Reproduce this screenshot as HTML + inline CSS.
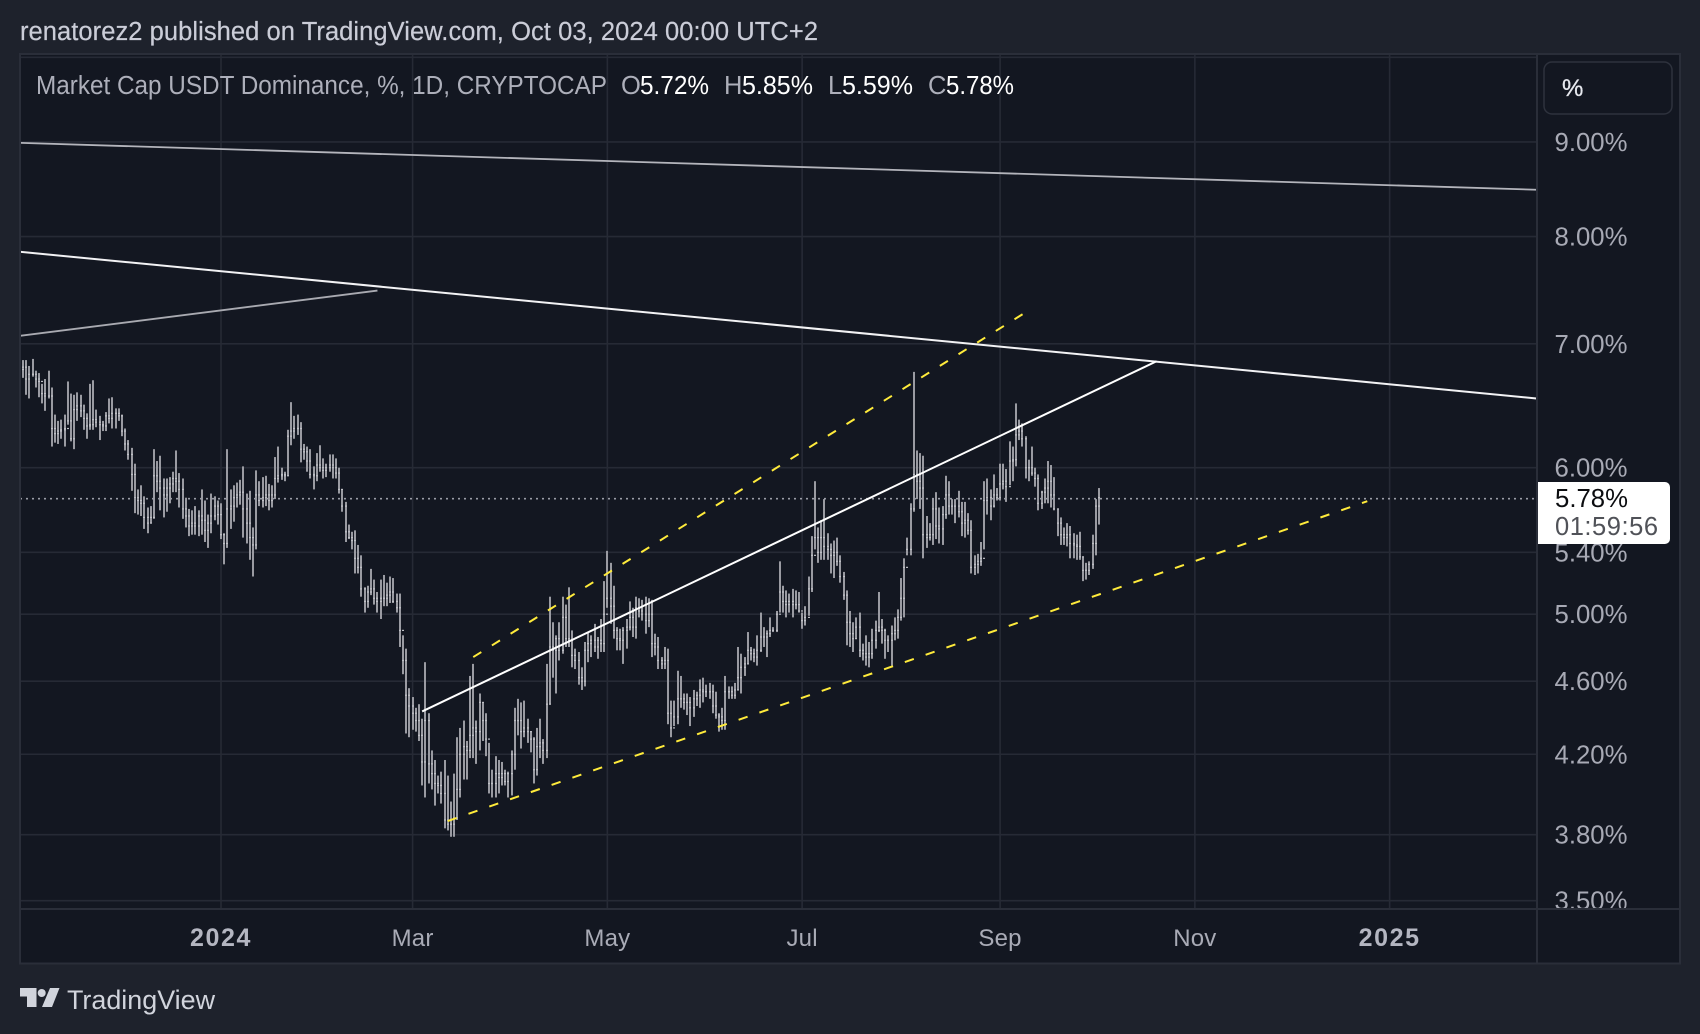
<!DOCTYPE html>
<html lang="en">
<head>
<meta charset="utf-8">
<title>Market Cap USDT Dominance chart</title>
<style>
html,body{margin:0;padding:0;background:#1e222c;width:1700px;height:1034px;overflow:hidden}
svg{display:block;font-family:"Liberation Sans",Arial,sans-serif}
</style>
</head>
<body>
<svg id="chart" xmlns="http://www.w3.org/2000/svg" width="1700" height="1034" viewBox="0 0 1700 1034">
  <defs>
    <clipPath id="plot-clip"><rect x="21" y="55" width="1516" height="853"/></clipPath>
    <clipPath id="price-clip"><rect x="1538" y="55" width="141" height="853"/></clipPath>
  </defs>
  <rect x="0" y="0" width="1700" height="1034" fill="#1e222c"/>
  <text x="20" y="40" font-size="25.5" fill="#cbcdd8" stroke="#cbcdd8" stroke-width="0.2" textLength="798" lengthAdjust="spacing">renatorez2 published on TradingView.com, Oct 03, 2024 00:00 UTC+2</text>
  <rect x="20" y="54" width="1660" height="909.5" fill="#131721" stroke="#2a2e39" stroke-width="2"/>
  <g id="grid" clip-path="url(#plot-clip)"></g>
  <g id="bars" clip-path="url(#plot-clip)"></g>
  <g id="last-line" clip-path="url(#plot-clip)"></g>
  <g id="drawings" clip-path="url(#plot-clip)"></g>
  <line x1="1537" y1="54" x2="1537" y2="963" stroke="#2a2e39" stroke-width="2"/>
  <line x1="20" y1="909" x2="1680" y2="909" stroke="#2a2e39" stroke-width="2"/>
  <g id="price-axis" clip-path="url(#price-clip)"></g>
  <g id="time-axis"></g>

  <g font-size="25.5">
    <text x="36" y="94" fill="#adafba" textLength="571" lengthAdjust="spacingAndGlyphs">Market Cap USDT Dominance, %, 1D, CRYPTOCAP</text>
    <text x="621" y="94" fill="#adafba">O</text>
    <text x="640" y="94" fill="#ffffff" textLength="69" lengthAdjust="spacingAndGlyphs">5.72%</text>
    <text x="724" y="94" fill="#adafba">H</text>
    <text x="742" y="94" fill="#ffffff" textLength="71" lengthAdjust="spacingAndGlyphs">5.85%</text>
    <text x="828" y="94" fill="#adafba">L</text>
    <text x="842" y="94" fill="#ffffff" textLength="71" lengthAdjust="spacingAndGlyphs">5.59%</text>
    <text x="928" y="94" fill="#adafba">C</text>
    <text x="946" y="94" fill="#ffffff" textLength="68" lengthAdjust="spacingAndGlyphs">5.78%</text>
  </g>

  <g>
    <rect x="1544" y="62" width="128" height="52" rx="8" ry="8" fill="#131721" stroke="#2e323d" stroke-width="1.5"/>
    <text x="1562" y="96" font-size="24" fill="#e6e8ee" stroke="#e6e8ee" stroke-width="0.3">%</text>
  </g>

  <g id="last-price-tag">
    <path d="M1538 482H1665a5 5 0 0 1 5 5V539a5 5 0 0 1 -5 5H1538Z" fill="#ffffff"/>
    <text id="last-price-text" x="1555" y="507" font-size="25.5" fill="#0c0d10" textLength="73" lengthAdjust="spacingAndGlyphs">5.78%</text>
    <text x="1555" y="535" font-size="25.5" fill="#505258" textLength="103" lengthAdjust="spacing">01:59:56</text>
  </g>

  <g fill="#d1d4dc">
    <polygon points="20,988 36.5,988 36.5,1007 27,1007 27,996.5 20,996.5"/>
    <circle cx="41.7" cy="993" r="4"/>
    <polygon points="50,988 59.5,988 52,1007 42,1007"/>
  </g>
  <text x="67" y="1009" font-size="26.5" fill="#d1d4dc" textLength="148" lengthAdjust="spacingAndGlyphs">TradingView</text>
</svg>
<script>
// ---- chart data ----
const startDate = '2023-10-30';
const highs = [
6.86,6.86,6.86,6.81,6.87,6.77,6.75,6.66,6.70,6.77,6.63,6.41,6.36,6.37,6.41,6.68,6.58,6.57,6.59,6.57,
6.49,6.42,6.66,6.69,6.45,6.40,6.36,6.43,6.54,6.55,6.46,6.46,6.41,6.30,6.21,6.15,6.03,5.84,5.87,5.79,
5.71,5.72,6.14,6.05,6.09,5.92,5.92,5.93,5.97,6.13,5.96,5.92,5.78,5.70,5.69,5.72,5.69,5.84,5.76,5.66,
5.81,5.79,5.76,5.74,5.53,6.14,5.84,5.87,5.89,5.91,6.01,5.81,5.83,5.57,5.98,5.90,5.93,5.94,5.88,5.87,
6.08,6.16,6.00,5.97,6.29,6.51,6.40,6.41,6.35,6.18,6.16,6.14,6.01,6.11,6.17,6.07,6.03,6.10,6.10,6.07,
6.00,5.84,5.75,5.59,5.54,5.55,5.45,5.38,5.17,5.18,5.29,5.22,5.14,5.22,5.25,5.20,5.24,5.23,5.13,5.13,
4.87,4.79,4.56,4.51,4.45,4.47,4.39,4.71,4.42,4.22,4.17,4.09,4.11,4.17,4.09,3.96,4.10,4.29,4.34,4.38,
4.27,4.63,4.70,4.38,4.53,4.48,4.42,4.26,4.12,4.19,4.17,4.16,4.12,4.11,4.22,4.45,4.50,4.48,4.49,4.39,
4.32,4.29,4.34,4.39,4.28,4.70,5.11,4.95,4.87,4.95,5.11,5.06,5.17,4.90,4.79,4.77,4.68,4.83,4.89,4.87,
4.94,4.86,4.97,5.21,5.41,5.33,5.18,4.92,4.91,4.92,4.97,5.08,5.04,5.11,5.10,5.09,5.11,5.10,5.09,4.88,
4.86,4.74,4.80,4.79,4.49,4.49,4.66,4.63,4.53,4.53,4.51,4.55,4.54,4.61,4.62,4.58,4.59,4.58,4.54,4.42,
4.45,4.63,4.57,4.57,4.59,4.80,4.76,4.74,4.89,4.80,4.79,4.87,5.01,4.92,4.90,4.98,4.92,5.02,5.34,5.18,
5.15,5.13,5.16,5.15,5.14,5.01,5.05,5.24,5.51,5.90,5.57,5.62,5.77,5.53,5.46,5.48,5.50,5.38,5.27,5.15,
5.02,4.95,4.98,5.01,4.82,4.87,4.83,4.91,4.96,5.14,4.97,4.91,4.87,4.93,4.98,5.03,5.23,5.36,5.50,5.74,
6.76,6.13,6.11,6.09,5.65,5.60,5.77,5.82,5.71,5.72,5.94,5.90,5.77,5.77,5.83,5.75,5.75,5.67,5.62,5.38,
5.39,5.47,5.90,5.92,5.84,5.95,5.85,6.03,6.03,5.99,6.20,6.16,6.50,6.37,6.34,6.24,6.06,6.16,6.00,5.95,
5.83,5.92,6.05,6.02,5.93,5.70,5.64,5.57,5.60,5.58,5.53,5.52,5.54,5.37,5.33,5.34,5.52,5.77,5.85
];
const lows = [
6.71,6.71,6.57,6.54,6.72,6.63,6.55,6.50,6.44,6.54,6.16,6.19,6.18,6.22,6.16,6.33,6.20,6.14,6.36,6.39,
6.29,6.22,6.29,6.29,6.31,6.21,6.28,6.28,6.34,6.30,6.30,6.36,6.24,6.13,6.06,5.83,5.67,5.66,5.65,5.56,
5.53,5.60,5.63,5.82,5.69,5.64,5.68,5.74,5.82,5.82,5.71,5.63,5.57,5.51,5.52,5.52,5.51,5.52,5.47,5.43,
5.53,5.62,5.59,5.49,5.32,5.43,5.56,5.61,5.71,5.73,5.50,5.46,5.35,5.24,5.42,5.72,5.71,5.72,5.69,5.71,
5.77,5.89,5.91,5.90,5.94,6.17,6.22,6.25,6.04,6.06,5.97,5.92,5.84,5.90,5.97,5.92,5.93,5.97,5.92,5.92,
5.81,5.68,5.47,5.49,5.42,5.26,5.26,5.11,5.01,5.04,5.12,5.06,5.01,4.97,5.05,5.05,5.07,5.07,5.01,4.80,
4.64,4.31,4.29,4.33,4.32,4.27,4.04,3.98,4.05,4.02,3.94,4.00,3.95,3.83,3.82,3.79,3.79,3.87,3.98,4.07,
4.07,4.18,4.18,4.15,4.22,4.27,4.19,4.00,3.98,3.98,4.00,4.04,4.04,3.98,3.99,4.12,4.30,4.23,4.29,4.26,
4.21,4.05,4.09,4.18,4.15,4.18,4.47,4.62,4.53,4.72,4.76,4.80,4.80,4.68,4.67,4.58,4.55,4.57,4.71,4.74,
4.77,4.73,4.77,4.77,5.04,4.94,4.85,4.78,4.78,4.70,4.79,4.90,4.86,4.85,4.98,4.96,4.88,4.92,4.74,4.75,
4.67,4.67,4.67,4.36,4.29,4.35,4.36,4.45,4.44,4.41,4.35,4.40,4.46,4.45,4.48,4.51,4.50,4.42,4.39,4.32,
4.33,4.33,4.50,4.50,4.50,4.55,4.53,4.63,4.70,4.72,4.71,4.69,4.77,4.80,4.74,4.86,4.89,4.89,5.01,5.01,
4.98,5.01,4.98,5.03,5.01,4.91,4.93,4.99,5.14,5.42,5.33,5.35,5.35,5.35,5.26,5.23,5.31,5.20,5.09,4.81,
4.80,4.77,4.85,4.74,4.72,4.69,4.68,4.73,4.79,4.89,4.82,4.73,4.77,4.69,4.84,4.85,4.96,4.98,5.38,5.38,
5.68,5.77,5.70,5.36,5.43,5.48,5.45,5.49,5.46,5.45,5.63,5.66,5.66,5.60,5.64,5.51,5.50,5.52,5.26,5.25,
5.26,5.31,5.42,5.66,5.62,5.71,5.76,5.76,5.84,5.75,5.87,5.90,6.01,6.21,6.16,5.92,5.90,5.94,5.86,5.69,
5.70,5.74,5.74,5.71,5.69,5.51,5.45,5.45,5.44,5.36,5.36,5.35,5.35,5.21,5.22,5.25,5.29,5.38,5.59
];
const closes = [
6.78,6.80,6.70,6.74,6.74,6.70,6.68,6.58,6.56,6.56,6.30,6.26,6.28,6.29,6.30,6.36,6.22,6.45,6.48,6.44,
6.38,6.32,6.33,6.37,6.35,6.33,6.32,6.40,6.38,6.42,6.42,6.40,6.28,6.18,6.10,5.95,5.78,5.76,5.74,5.64,
5.60,5.64,5.94,5.90,5.85,5.80,5.85,5.88,5.92,5.90,5.84,5.70,5.65,5.58,5.60,5.58,5.65,5.62,5.55,5.60,
5.65,5.72,5.66,5.52,5.46,5.70,5.72,5.78,5.80,5.82,5.70,5.60,5.50,5.45,5.80,5.76,5.78,5.80,5.76,5.80,
5.92,5.94,5.95,5.94,6.24,6.28,6.30,6.30,6.14,6.12,6.05,5.95,5.94,6.02,6.00,5.98,6.00,6.02,6.00,5.96,
5.84,5.72,5.54,5.50,5.48,5.36,5.30,5.16,5.08,5.14,5.16,5.10,5.08,5.10,5.10,5.12,5.14,5.08,5.04,4.90,
4.72,4.52,4.46,4.42,4.38,4.30,4.16,4.38,4.15,4.10,4.05,4.04,4.00,3.87,3.85,3.85,3.88,4.02,4.20,4.24,
4.22,4.30,4.34,4.32,4.48,4.38,4.28,4.05,4.05,4.10,4.08,4.10,4.06,4.10,4.20,4.38,4.38,4.32,4.34,4.32,
4.28,4.12,4.24,4.26,4.22,4.47,4.80,4.78,4.85,4.78,4.98,4.85,4.84,4.75,4.72,4.62,4.60,4.78,4.82,4.84,
4.80,4.84,4.82,5.00,5.10,5.05,4.90,4.85,4.84,4.90,4.92,4.98,4.92,5.04,5.02,5.00,4.96,5.00,4.82,4.80,
4.72,4.70,4.72,4.42,4.34,4.40,4.50,4.50,4.48,4.48,4.45,4.50,4.52,4.55,4.54,4.54,4.54,4.46,4.41,4.40,
4.38,4.54,4.54,4.52,4.55,4.62,4.68,4.70,4.78,4.76,4.74,4.78,4.86,4.86,4.88,4.90,4.90,5.00,5.14,5.08,
5.06,5.08,5.06,5.06,5.02,4.96,4.98,5.16,5.38,5.50,5.40,5.50,5.44,5.42,5.38,5.40,5.34,5.24,5.12,4.95,
4.88,4.85,4.92,4.78,4.76,4.74,4.76,4.84,4.90,4.92,4.90,4.84,4.84,4.88,4.90,4.98,5.10,5.30,5.42,5.70,
5.95,5.90,5.85,5.52,5.50,5.52,5.70,5.58,5.56,5.66,5.80,5.72,5.72,5.72,5.68,5.60,5.62,5.55,5.30,5.32,
5.34,5.36,5.76,5.78,5.72,5.80,5.78,5.88,5.90,5.86,6.05,6.06,6.25,6.28,6.22,6.00,6.00,5.96,5.92,5.74,
5.82,5.85,5.90,5.80,5.70,5.60,5.52,5.50,5.52,5.46,5.45,5.44,5.37,5.28,5.28,5.32,5.46,5.72,5.78
];
const firstOpen = 6.80;
const priceGridLevels = [10, 9, 8, 7, 6, 5.4, 5, 4.6, 4.2, 3.8, 3.5];
const priceTickLabels = ['', '9.00%', '8.00%', '7.00%', '6.00%', '5.40%', '5.00%', '4.60%', '4.20%', '3.80%', '3.50%'];
const timeTickDates = ['2024-01-01', '2024-03-01', '2024-05-01', '2024-07-01', '2024-09-01', '2024-11-01', '2025-01-01'];
const timeTickLabels = ['2024', 'Mar', 'May', 'Jul', 'Sep', 'Nov', '2025'];
const timeTickBold = [true, false, false, false, false, false, true];
// trend lines: start date, start price, end date, end price
const upperResistanceLine = ['2023-10-30', 8.99, '2025-02-16', 8.48];
const mainResistanceLine = ['2023-10-30', 7.85, '2025-02-16', 6.54];
const shortGrayLine = ['2023-10-30', 7.07, '2024-02-19', 7.48];
const channelMidLine = ['2024-03-04', 4.43, '2024-10-20', 6.85];
const channelUpperLine = ['2024-03-20', 4.74, '2024-09-09', 7.28];
const channelLowerLine = ['2024-03-12', 3.865, '2024-12-25', 5.755];

// ---- axes ----
function dayOf(d) { return (Date.parse(d) - Date.parse(startDate)) / 86400000; }
function xAxis(day) { return 221 + (day - 63) * 3.193; }
function yAxis(price) { return 467.7 - 803.4 * Math.log(price / 6); }

const NS = 'http://www.w3.org/2000/svg';
function make(tag, parent) {
  const el = document.createElementNS(NS, tag);
  parent.appendChild(el);
  return el;
}
function setAll(el, props) {
  for (const k in props) el.setAttribute(k, props[k]);
}

// ---- grid ----
const gridLayer = document.getElementById('grid');
priceGridLevels.forEach(function (level) {
  const line = make('line', gridLayer);
  
  
  setAll(line, { x1: 20, x2: 1537, y1: yAxis(level), y2: yAxis(level), stroke: '#262a35', 'stroke-width': 1.6 });
});
timeTickDates.forEach(function (d) {
  const line = make('line', gridLayer);
  
  
  const x = xAxis(dayOf(d));
  setAll(line, { x1: x, x2: x, y1: 55, y2: 909, stroke: '#262a35', 'stroke-width': 1.6 });
});

// ---- price axis ----
const priceLayer = document.getElementById('price-axis');
priceGridLevels.forEach(function (level, i) {
  if (!priceTickLabels[i]) return;
  const t = make('text', priceLayer);
  
  
  setAll(t, { x: 1554.5, y: yAxis(level) + 9, 'font-size': 25.5, fill: '#a8aab5', textLength: 73, lengthAdjust: 'spacingAndGlyphs' });
  t.textContent = priceTickLabels[i];
});

// ---- time axis ----
const timeLayer = document.getElementById('time-axis');
timeTickDates.forEach(function (d, i) {
  const t = make('text', timeLayer);
  
  
  const bold = timeTickBold[i];
  setAll(t, {
    x: xAxis(dayOf(d)), y: 946, 'font-size': bold ? 25 : 24, 'text-anchor': 'middle',
    'font-weight': bold ? 'bold' : 'normal', fill: bold ? '#b4b6c1' : '#a9abb6',
    'letter-spacing': bold ? 1.6 : 0.2
  });
  t.textContent = timeTickLabels[i];
});

// ---- OHLC bars ----
const barLayer = document.getElementById('bars');
highs.forEach(function (high, i) {
  const x = Math.round(xAxis(i) - 1);
  const open = i === 0 ? firstOpen : closes[i - 1];
  const close = closes[i];
  const g = make('g', barLayer);
  
  
  const body = make('rect', g);
  
  
  setAll(body, { x: x, y: yAxis(high), width: 2, height: yAxis(lows[i]) - yAxis(high), fill: '#9a9ba2' });
  const openTick = make('rect', g);
  
  
  setAll(openTick, { x: x, y: yAxis(open) - 0.6, width: 2, height: 1.2, fill: '#bfc0c6' });
  const closeTick = make('rect', g);
  
  
  setAll(closeTick, { x: x, y: yAxis(close) - 0.6, width: 2, height: 1.2, fill: '#bfc0c6' });
});

// ---- last price line ----
const lastPrice = closes[closes.length - 1];
const lastLine = make('line', document.getElementById('last-line'));


setAll(lastLine, { x1: 20, x2: 1537, y1: yAxis(lastPrice) + 1, y2: yAxis(lastPrice) + 1, stroke: '#9a9ca6', 'stroke-width': 1.6, 'stroke-dasharray': '2 4' });
document.getElementById('last-price-text').textContent = lastPrice.toFixed(2) + '%';

// ---- trend lines ----
const drawingLayer = document.getElementById('drawings');
function trendLine(def, name, color, width, dash) {
  const line = make('line', drawingLayer);
  
  
  setAll(line, {
    x1: xAxis(dayOf(def[0])), y1: yAxis(def[1]),
    x2: xAxis(dayOf(def[2])), y2: yAxis(def[3]),
    stroke: color, 'stroke-width': width
  });
  if (dash) line.setAttribute('stroke-dasharray', dash);
}
trendLine(upperResistanceLine, 'upper-resistance-line', '#b4b5bc', 1.8);
trendLine(mainResistanceLine, 'main-resistance-line', '#f2f2f4', 2);
trendLine(shortGrayLine, 'short-gray-trend-line', '#a9aab1', 1.8);
trendLine(channelMidLine, 'channel-mid-line', '#ffffff', 2);
trendLine(channelUpperLine, 'channel-upper-dashed-line', '#ffeb3b', 2, '9.5 12.5');
trendLine(channelLowerLine, 'channel-lower-dashed-line', '#ffeb3b', 2, '9.5 12.5');
</script>
</body>
</html>
